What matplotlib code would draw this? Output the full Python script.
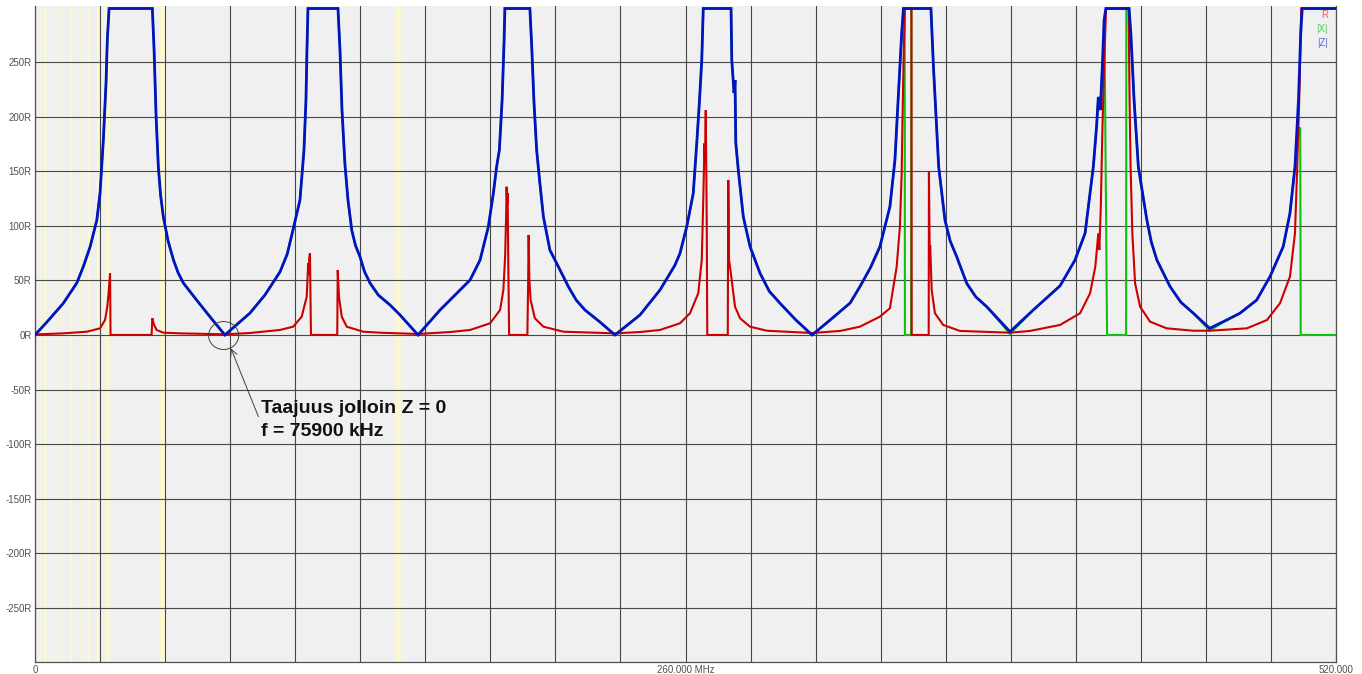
import numpy as np
import matplotlib
matplotlib.use("Agg")
import matplotlib.pyplot as plt
from matplotlib.patches import Ellipse

# ---------------- data (MHz, ohm) ----------------
Z_PTS = [  # |Z|
    (0, 0), (5, 12.5), (11.3, 29), (16.7, 47.6), (19.3, 62.5), (22, 80.6), (24.7, 105), (26, 130),
    (27.3, 178), (28.4, 231), (28.9, 270), (29.6, 299), (46.9, 299), (47.6, 261), (48.4, 200),
    (49.3, 154), (50.2, 128), (51.3, 108), (53.2, 86), (55.3, 69), (57.2, 57), (59.3, 47.6),
    (64.6, 32), (70, 16.5), (75.9, 0),
    (85.9, 20), (91.9, 36.6), (97.9, 57.7), (100.8, 74), (103.1, 96), (105.9, 123.6), (107.5, 169),
    (108.3, 215), (108.7, 261), (109.1, 299), (121.1, 299), (121.9, 261), (122.7, 206),
    (123.9, 155.7), (125.1, 123.6), (126.6, 96), (128.1, 82), (129.9, 71.7), (131.7, 58),
    (133.9, 47.6), (137.2, 36.6), (141.9, 27.5), (145.9, 18.3), (153.1, 0),
    (161.9, 22.9), (167.9, 36.6), (173.9, 50.4), (177.9, 68.7), (181.2, 99.2), (183.2, 129.8),
    (184.5, 154), (185.6, 169.4), (186.7, 215), (187.5, 270), (187.8, 299), (197.8, 299),
    (198.6, 261), (199.4, 215), (200.5, 169.4), (201.8, 139), (203.2, 108.3), (205.8, 77.8),
    (209.2, 62.5), (213.2, 44.2), (216.3, 32), (219.8, 22.9), (225.8, 11.9), (231.8, 0),
    (241.8, 18.3), (249.8, 41.2), (255.8, 64), (257.8, 74.8), (260.5, 99.2), (263.1, 129.8),
    (264.5, 175.6), (265.6, 215), (266.5, 251.8), (267.1, 299), (278.2, 299), (278.5, 251.8),
    (279.4, 221.6), (279.8, 233.5), (280.1, 176), (281.1, 151), (283.1, 108.3), (285.8, 80.9),
    (289.8, 56.5), (293.5, 40), (297.8, 29), (304, 14), (310.6, 0),
    (317.8, 13.7), (325.8, 29.3), (329.7, 44.2), (334, 62), (337.7, 80.9), (341.7, 117.5),
    (343.7, 160), (345, 215), (346.4, 276), (347.1, 299), (358.1, 299), (359.1, 245.7),
    (361.2, 154), (363.7, 105.3), (365.8, 86), (368.4, 71.7), (372.4, 47.3), (376, 35),
    (380.4, 25.9), (389.7, 3),
    (399, 22.9), (409.7, 45), (415.7, 68.7), (419.7, 93.1), (423, 154), (424.3, 190.8),
    (425, 218), (425.8, 206), (426.6, 245.7), (427.3, 288), (428, 299), (437.3, 299), (438, 276),
    (439.3, 215), (441, 154), (444.4, 105.3), (446.2, 85), (448.4, 68.7), (453.7, 44.2),
    (458, 30), (463, 19.9), (469.5, 6.1), (476.3, 13.7), (481.6, 19.9), (488.3, 32),
    (493.6, 53.4), (498.9, 80.9), (501.6, 111.5), (503.6, 154), (505, 215), (505.9, 276),
    (506.5, 299), (520, 299),
]

R_PTS = [  # R
    (0, 0.5), (11.3, 1.5), (20.7, 3), (26, 6.1), (28, 13.7), (28.9, 25.9), (29.4, 38.2), (30, 56.5),
    (30.2, 0), (46.6, 0), (46.9, 15.3), (47.6, 9.2), (48.6, 4.6), (51.3, 2.1), (58, 1.5), (70, 0.9),
    (75.9, 0.6),
    (85.9, 1.8), (97.9, 4.6), (103.2, 7.6), (106.6, 16.8), (108.6, 35), (109.2, 65.7), (109.4, 55),
    (109.6, 70.2), (109.9, 74.8), (110.3, 0), (120.8, 0), (121, 59.5), (121.5, 35), (122.6, 16.8),
    (124.6, 7.6), (131.2, 3), (137.9, 2.1), (153.1, 0.9),
    (165.9, 2.7), (173.9, 4.6), (181.9, 10.7), (185.9, 22.9), (187.2, 41.2), (187.9, 71.7),
    (188.3, 108.3), (188.5, 135.8), (188.7, 120), (188.9, 129.8), (189.2, 59.5), (189.5, 0),
    (196.8, 0), (197.1, 47.3), (197.3, 91.6), (197.6, 50.4), (198.1, 32), (199.8, 15.3),
    (203.2, 7.6), (211.2, 3), (231.8, 1.5),
    (241.8, 2.7), (249.8, 4.6), (257.8, 10.7), (261.8, 19.9), (265.1, 38.2), (266.5, 68.7),
    (267.1, 123.6), (267.6, 175.6), (267.8, 160), (268.1, 206), (268.5, 99.2), (268.7, 0),
    (276.9, 0), (277.1, 142), (277.4, 68.7), (277.8, 62.5), (279.1, 38.2), (279.8, 25.9),
    (281.8, 15.3), (285.8, 7.6), (292.5, 3.9), (310.6, 1.8),
    (321.8, 3.7), (329.7, 7.6), (337.7, 16.8), (341.7, 24.5), (344.4, 62.5), (345.7, 99.2),
    (346.4, 148), (346.8, 206), (347.3, 267), (347.7, 299), (350.3, 299), (350.4, 0), (357.2, 0),
    (357.3, 149.6), (357.6, 74.8), (357.8, 82), (358.4, 41.2), (359.7, 19.9), (363, 9.2),
    (369.7, 3.7), (389.7, 2.1),
    (397.7, 3.7), (409.7, 9.2), (417.7, 19.9), (421.7, 38.2), (423.8, 62.5), (425, 93.1),
    (425.4, 77.8), (426, 117.5), (426.6, 184.7), (427.3, 245.7), (428.1, 299), (437.1, 299),
    (437.3, 251.8), (437.5, 215), (437.9, 154), (438.6, 93.1), (439.7, 47.3), (441.7, 25.9),
    (445.7, 12.2), (452.3, 6.1), (463, 3.9), (469.5, 3.9), (484.4, 6.1), (492.4, 13.7),
    (497.6, 29), (501.6, 53.4), (503.6, 93.1), (504.5, 154), (505.3, 215), (505.9, 276),
    (506.1, 299), (520, 299),
]

# |X| coincides with |Z| below 329 MHz; above that it differs
X_TAIL = [
    (329.7, 44.2), (334, 62), (337.7, 80.9), (341.7, 117.5), (343.7, 160), (345, 215),
    (346.4, 276), (347.1, 299), (347.6, 299), (347.7, 0), (350.2, 0), (350.3, 299), (358.1, 299),
    (359.1, 245.7), (361.2, 154), (363.7, 105.3), (365.8, 86), (368.4, 71.7), (372.4, 47.3),
    (376, 35), (380.4, 25.9), (389.7, 1),
    (399, 22.9), (409.7, 45), (415.7, 68.7), (419.7, 93.1), (423, 154), (424.3, 190.8),
    (425, 218), (425.8, 206), (426.6, 245.7), (427.5, 272), (428.5, 0), (436.1, 0), (436.2, 299),
    (437.3, 299), (438, 276), (439.3, 215), (441, 154), (444.4, 105.3), (446.2, 85), (448.4, 68.7),
    (453.7, 44.2), (458, 30), (463, 19.9), (469.5, 4), (476.3, 13.7), (481.6, 19.9), (488.3, 32),
    (493.6, 53.4), (498.9, 80.9), (501.6, 111.5), (503.6, 154), (505.2, 188), (505.7, 190),
    (505.9, 0), (520, 0),
]
X_PTS = [p for p in Z_PTS if p[0] < 329] + X_TAIL

HAM_BANDS = [(1.81, 2.0), (3.5, 3.8), (7.0, 7.2), (10.1, 10.15), (14.0, 14.35), (18.068, 18.168),
             (21.0, 21.45), (24.89, 24.99), (28.0, 29.7), (50.0, 52.0), (144.0, 146.0)]

Y_TICKS = list(range(-250, 251, 50))
X_GRID = list(range(0, 521, 26))
X_LABELS = {0: "0", 260: "260.000 MHz", 520: "520.000"}

ZERO_F = 75.9

# ---------------- figure ----------------
W, H = 1362, 674
fig = plt.figure(figsize=(W / 100, H / 100), dpi=100)
fig.patch.set_facecolor("white")
ax = fig.add_axes([35 / W, 12 / H, 1301 / W, 656 / H])
ax.set_facecolor("#f0f0f0")
ax.set_xlim(0, 520)
ax.set_ylim(-299.5, 301.3)

for a, b in HAM_BANDS:
    ax.axvspan(a, b, color="#fbf8d0", lw=0.9, zorder=0.5)

ax.set_xticks(X_GRID)
ax.set_xticklabels([X_LABELS.get(v, "") for v in X_GRID])
ax.set_yticks(Y_TICKS)
ax.set_yticklabels([f"{v}R" for v in Y_TICKS])
ax.grid(True, color="#474747", lw=0.8, zorder=1)
ax.set_axisbelow(True)
ax.tick_params(length=0, labelsize=7, labelcolor="#505050", pad=2.5)
for lab in ax.get_xticklabels() + ax.get_yticklabels():
    lab.set_family("Liberation Sans")
for s in ["left", "bottom", "right"]:
    ax.spines[s].set_color("#505050")
    ax.spines[s].set_linewidth(0.9)
ax.spines["top"].set_visible(False)

xf, xv = zip(*X_PTS)
rf, rv = zip(*R_PTS)
zf, zv = zip(*Z_PTS)
ax.plot(xf, xv, color="#10c010", lw=1.5, zorder=2, solid_joinstyle="miter")
ax.plot(rf, rv, color="#cc0000", lw=1.5, zorder=3, solid_joinstyle="miter")
ax.plot(zf, zv, color="#0014c0", lw=2.0, zorder=4, solid_joinstyle="miter")

# legend (top right, plain coloured text)
leg = [("R", "#e06060"), ("|X|", "#50cc50"), ("|Z|", "#6060d0")]
for i, (t, c) in enumerate(leg):
    ax.text(0.9939, 0.986 - i * 0.0215, t, transform=ax.transAxes, ha="right", va="center",
            color=c, fontsize=7, family="Liberation Sans", zorder=6)

# annotation
ax.add_patch(Ellipse((ZERO_F - 0.5, -0.5), width=12, height=25.6, fill=False,
                     edgecolor="#404040", lw=0.7, zorder=6))
ax.annotate("", xy=(78.3, -12.2), xytext=(89.3, -74.8),
            arrowprops=dict(arrowstyle="->", color="#404040", lw=0.7, shrinkA=0, shrinkB=0,
                            mutation_scale=12), zorder=6)
ax.text(90.3, -59.5, f"Taajuus jolloin Z = 0\nf = {ZERO_F * 1000:.0f} kHz", fontsize=14,
        fontweight="bold", family="Liberation Sans", va="top", ha="left", linespacing=1.45,
        color="#111111", zorder=6)

fig.savefig("out.png", dpi=100)
